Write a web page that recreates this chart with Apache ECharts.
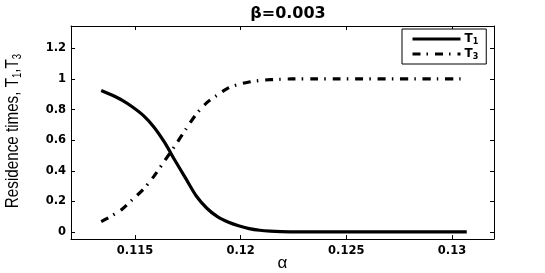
<!DOCTYPE html>
<html><head><meta charset="utf-8">
<script src="https://cdn.jsdelivr.net/npm/echarts@6/dist/echarts.min.js"></script>
<style>html,body{margin:0;padding:0;background:#fff}#c{width:545px;height:273px}</style>
</head><body><div id="c"></div>
<script>
const alpha = [0.1134,0.1139,0.1144,0.1149,0.1154,0.1159,0.1164,0.1169,0.1174,0.1179,0.1184,0.1189,0.1194,0.1199,0.1204,0.1209,0.1214,0.1219,0.1224,0.1234,0.1244,0.1254,0.1264,0.1274,0.1284,0.1294,0.1304,0.1307];
const T1 = [0.925,0.895,0.86,0.815,0.76,0.685,0.585,0.465,0.35,0.235,0.155,0.1,0.065,0.04,0.022,0.011,0.005,0.002,0.001,0,0,0,0,0,0,0,0,0];
const T3 = [0.067,0.105,0.15,0.215,0.28,0.365,0.465,0.565,0.67,0.77,0.845,0.895,0.94,0.965,0.98,0.99,0.995,0.998,1,1,1,1,1,1,1,1,1,1];
const xTicks = [0.115,0.12,0.125,0.13];
const xTickLabels = ['0.115','0.12','0.125','0.13'];
const yTicks = [0,0.2,0.4,0.6,0.8,1,1.2];
const yTickLabels = ['0','0.2','0.4','0.6','0.8','1','1.2'];
const seriesNames = ['T1','T3'];

const chart = echarts.init(document.getElementById('c'), null, {renderer:'canvas'});
const fontF = '"Liberation Sans", Arial, Helvetica, sans-serif';
const fontB = '"DejaVu Sans", "Liberation Sans", sans-serif';
const X_MIN = 0.11197, X_MAX = 0.13199, Y_MIN = -0.046, Y_MAX = 1.346;
function fmt(list, ticks){ return v => { for (let i=0;i<ticks.length;i++) if (Math.abs(v-ticks[i])<1e-9) return list[i]; return ''; }; }
const tickCommon = {show:true, inside:true, length:4, lineStyle:{color:'#000', width:1}};
const lineCommon = {show:true, onZero:false, lineStyle:{color:'#000', width:1}};
const labelStyle = {color:'#000', fontFamily:fontB, fontWeight:'bold', fontSize:11.5};
const option = {
  backgroundColor:'#fff',
  animation:false,
  title:{text:'\u03b2=0.003', left:283, textAlign:'center', top:1, textStyle:{fontFamily:fontB, fontWeight:'bold', fontSize:16, color:'#000'}},
  grid:{left:71, right:51, top:26, bottom:34, containLabel:false, outerBoundsMode:'none'},
  legend:{
    left:402, top:29, orient:'vertical',
    backgroundColor:'#fff', borderColor:'#000', borderWidth:1,
    padding:[4,8,3,9], itemGap:2, itemWidth:48, itemHeight:11,
    data:seriesNames,
    itemStyle:{color:'rgba(0,0,0,0)', borderWidth:0, opacity:0},
    lineStyle:{width:3, color:'#000'},
    formatter: n => n.charAt(0)+'{sub|'+n.slice(1)+'}',
    textStyle:{fontFamily:fontB, fontWeight:'bold', fontSize:12, color:'#000', padding:[0,0,0,-1],
      rich:{sub:{fontFamily:fontB, fontWeight:'bold', fontSize:8, color:'#000', verticalAlign:'bottom', padding:[6,0,0,0]}}}
  },
  xAxis:[
    {type:'value', position:'bottom', min:X_MIN, max:X_MAX,
     axisLine:lineCommon, splitLine:{show:false},
     axisTick:Object.assign({customValues:xTicks}, tickCommon),
     axisLabel:Object.assign({customValues:xTicks, formatter:fmt(xTickLabels,xTicks), margin:6, showMinLabel:true, showMaxLabel:true}, labelStyle),
     name:'\u03b1', nameLocation:'middle', nameGap:16, nameMoveOverlap:false,
     nameTextStyle:{fontFamily:fontF, fontSize:17, color:'#000', verticalAlign:'top'}},
    {type:'value', position:'top', min:X_MIN, max:X_MAX,
     axisLine:lineCommon, splitLine:{show:false},
     axisTick:Object.assign({customValues:xTicks}, tickCommon),
     axisLabel:{show:false}}
  ],
  yAxis:[
    {type:'value', position:'left', min:Y_MIN, max:Y_MAX,
     axisLine:lineCommon, splitLine:{show:false},
     axisTick:Object.assign({customValues:yTicks}, tickCommon),
     axisLabel:Object.assign({customValues:yTicks, formatter:fmt(yTickLabels,yTicks), margin:5}, labelStyle)},
    {type:'value', position:'right', min:Y_MIN, max:Y_MAX,
     axisLine:lineCommon, splitLine:{show:false},
     axisTick:Object.assign({customValues:yTicks}, tickCommon),
     axisLabel:{show:false}}
  ],
  graphic:[{
    type:'text', x:13, y:131, rotation:Math.PI/2, scaleX:0.8,
    style:{text:'Residence times, T{sub|1},T{sub|3}', x:0, y:0, align:'center', verticalAlign:'middle',
      fontFamily:fontF, fontSize:19, fill:'#000',
      rich:{sub:{fontFamily:fontF, fontSize:12, fill:'#000', verticalAlign:'bottom', padding:[9,0,0,0]}}}
  }],
  series:[
    {name:seriesNames[0], type:'line', data:alpha.map((a,i)=>[a,T1[i]]), showSymbol:false, symbol:'none', smooth:0.3,
     lineStyle:{color:'#000', width:3.2, type:'solid', cap:'butt'}, itemStyle:{color:'#000'}},
    {name:seriesNames[1], type:'line', data:alpha.map((a,i)=>[a,T3[i]]), showSymbol:false, symbol:'none', smooth:0.3,
     lineStyle:{color:'#000', width:3.2, type:[8,6,1.5,7], cap:'butt'}, itemStyle:{color:'#000'}}
  ]
};
chart.setOption(option);
</script></body></html>
